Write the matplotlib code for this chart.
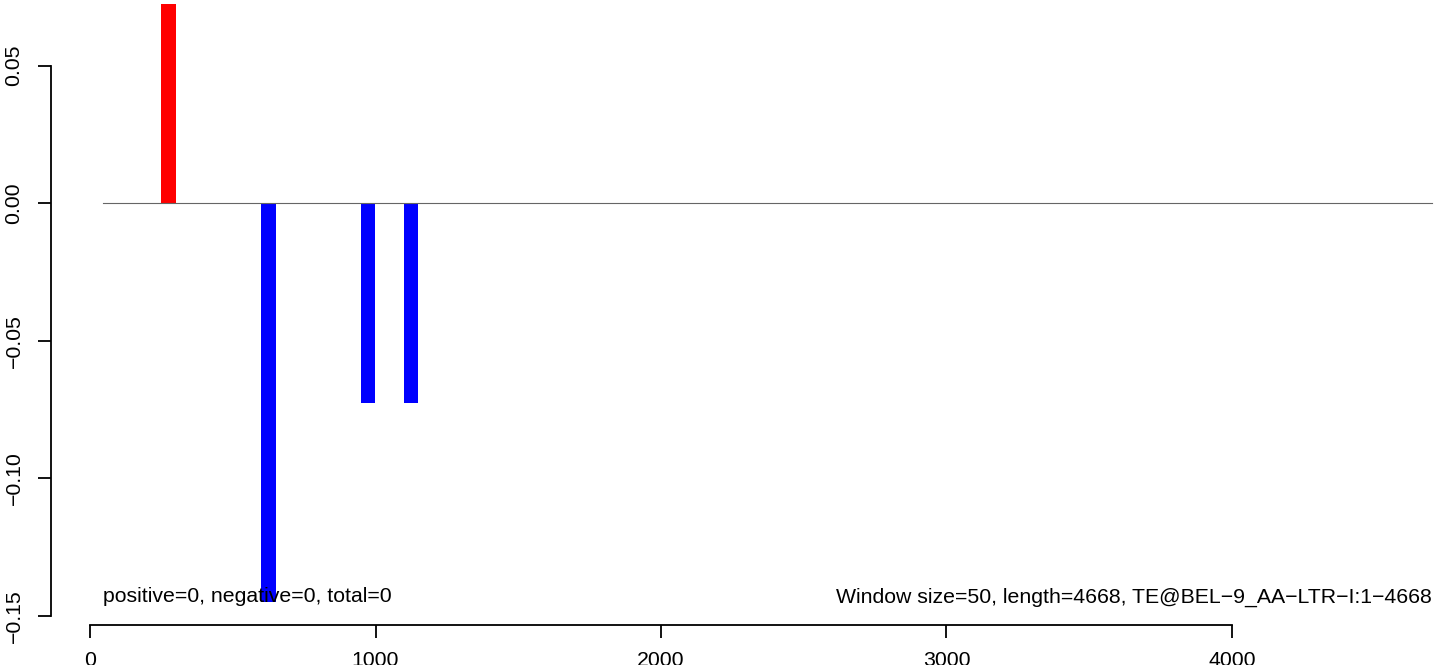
import matplotlib
matplotlib.use("Agg")
import matplotlib.pyplot as plt

# window bars: start position, value
win_starts = [250, 600, 950, 1100]
win_values = [0.0725, -0.145, -0.0725, -0.0725]
win_size = 50

seq_start = 46
seq_end = 4700

x_ticks = [0, 1000, 2000, 3000, 4000]
x_tick_labels = ["0", "1000", "2000", "3000", "4000"]
y_ticks = [-0.15, -0.10, -0.05, 0.00, 0.05]
y_tick_labels = ["\u22120.15", "\u22120.10", "\u22120.05", "0.00", "0.05"]

left_text = "positive=0, negative=0, total=0"
right_text = "Window size=50, length=4668, TE@BEL\u22129_AA\u2212LTR\u2212I:1\u22124668"

plt.rcParams["font.family"] = ["Liberation Sans", "DejaVu Sans"]
fsize = 15.3

fig = plt.figure(figsize=(14.44, 6.65), dpi=100)
ax = fig.add_axes([0, 0, 1, 1])

# pixel mapping of the reference (x: 0 -> 90px, 4000 -> 1232px; y: 0 -> 203px)
px_per_x = (1232 - 90) / 4000
px_per_y = 2751.5
ax.set_xlim(-90 / px_per_x, (1444 - 90) / px_per_x)
ax.set_ylim((203.3 - 665) / px_per_y, 203.3 / px_per_y)

colors = ["red" if v > 0 else "blue" for v in win_values]
ax.bar(win_starts, win_values, width=win_size, align="edge", color=colors,
       linewidth=0, zorder=2)

ax.plot([seq_start, seq_end], [0, 0], color="#666666", lw=0.8, zorder=3)

ymin = min(win_values)
ax.text(seq_start, ymin, left_text, ha="left", va="baseline", fontsize=fsize, zorder=4)
ax.text(seq_end, ymin, right_text, ha="right", va="baseline", fontsize=fsize, zorder=4)

for s in ["top", "right"]:
    ax.spines[s].set_visible(False)
ax.spines["left"].set_position(("data", (50.5 - 90) / px_per_x))
ax.spines["left"].set_bounds(y_ticks[0], y_ticks[-1])
ax.spines["bottom"].set_position(("data", (203.3 - 624.5) / px_per_y))
ax.spines["bottom"].set_bounds(x_ticks[0], x_ticks[-1])
for s in ["left", "bottom"]:
    ax.spines[s].set_linewidth(1.3)

ax.set_xticks(x_ticks)
ax.set_xticklabels(x_tick_labels)
ax.set_yticks(y_ticks)
ax.set_yticklabels(y_tick_labels, rotation=90, va="center")
ax.tick_params(direction="out", length=9.4, width=1.3, labelsize=fsize, pad=10)
ax.patch.set_visible(False)

fig.savefig("out.png", dpi=100)
